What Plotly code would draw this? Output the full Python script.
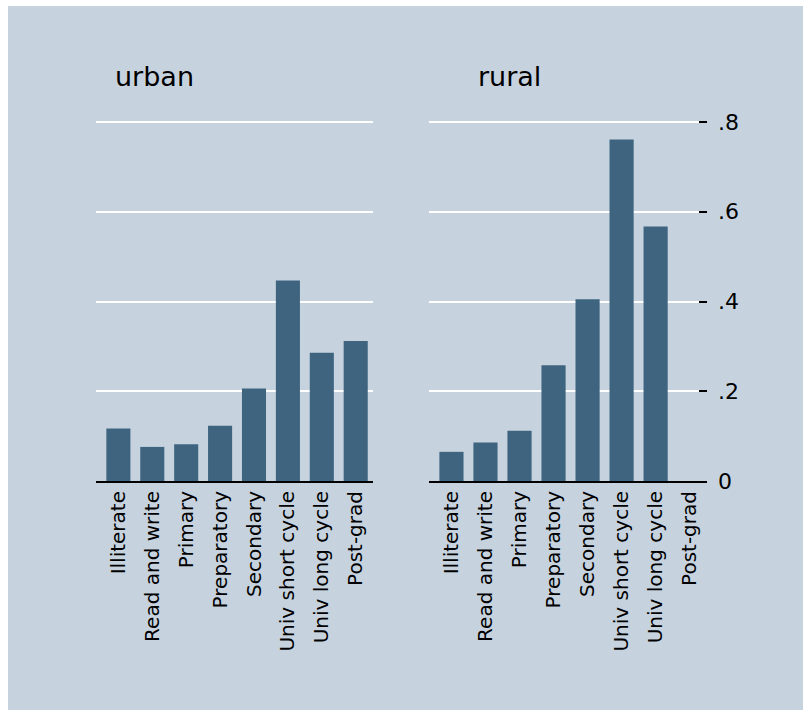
"""
Proporción por nivel educativo, paneles urbano / rural (estilo Stata).
"""

import plotly.graph_objects as go

# Datos
NIVELES = ['Illiterate', 'Read and write', 'Primary', 'Preparatory',
           'Secondary', 'Univ short cycle', 'Univ long cycle', 'Post-grad']
URBANO = [0.117, 0.076, 0.082, 0.123, 0.206, 0.447, 0.286, 0.312]
RURAL = [0.065, 0.086, 0.112, 0.258, 0.405, 0.761, 0.567, None]
TICKS_Y = [0, 0.2, 0.4, 0.6, 0.8]
TICKS_Y_TXT = ['0', '.2', '.4', '.6', '.8']

# Colores
COLOR_FONDO = "#C6D3DF"
COLOR_BARRA = "#3E6480"
FUENTE = "DejaVu Sans"

# Geometría en píxeles: el div queda a (8, 6) de la esquina de la ventana
OFF_X, OFF_Y = 8, 6
W, H = 803 - OFF_X, 710 - OFF_Y
L = 96 - OFF_X
T = 110 - OFF_Y
R = W - (707 - OFF_X)
B = H - (481 - OFF_Y)
ANCHO = W - L - R
ALTO = H - T - B


def px_x(p):
    # p en coordenadas de la ventana
    return (p - OFF_X - L) / ANCHO


def px_y(p):
    return (H - B - (p - OFF_Y)) / ALTO


fig = go.Figure()

fig.add_trace(go.Bar(x=list(range(len(NIVELES))), y=URBANO,
                     marker_color=COLOR_BARRA, marker_line_width=0,
                     xaxis='x', yaxis='y', showlegend=False))
fig.add_trace(go.Bar(x=list(range(len(NIVELES))), y=RURAL,
                     marker_color=COLOR_BARRA, marker_line_width=0,
                     xaxis='x2', yaxis='y2', showlegend=False))

eje_x = dict(
    tickmode='array',
    tickvals=list(range(len(NIVELES))),
    ticktext=NIVELES,
    tickangle=-90,
    range=[-0.66, 7.51],
    showgrid=False,
    zeroline=False,
    showline=True,
    linecolor='black',
    linewidth=2,
    ticks='',
    tickfont=dict(family=FUENTE, size=20, color='black'),
)
y_max = ALTO / 448.75

fig.update_layout(
    width=W,
    height=H,
    margin=dict(l=L, r=R, t=T, b=B),
    paper_bgcolor=COLOR_FONDO,
    plot_bgcolor=COLOR_FONDO,
    bargap=0.29,
    font=dict(family=FUENTE, color='black'),
    xaxis=dict(eje_x, domain=[0, px_x(373)], anchor='y'),
    xaxis2=dict(eje_x, domain=[px_x(429), 1], anchor='y2'),
    yaxis=dict(range=[0, y_max], tickvals=TICKS_Y, showticklabels=False,
               showgrid=True, gridcolor='white', gridwidth=2,
               zeroline=False, ticks='', anchor='x'),
    yaxis2=dict(range=[0, y_max], tickvals=TICKS_Y, ticktext=TICKS_Y_TXT,
                side='right', anchor='x2', showgrid=True, gridcolor='white',
                gridwidth=2, zeroline=False, ticks='inside', ticklen=8,
                tickwidth=2, tickcolor='black', ticklabelstandoff=10,
                tickfont=dict(family=FUENTE, size=22, color='black')),
    annotations=[
        dict(text='urban', xref='paper', yref='paper', x=px_x(113),
             y=px_y(77), xanchor='left', yanchor='middle', showarrow=False,
             font=dict(family=FUENTE, size=27, color='black')),
        dict(text='rural', xref='paper', yref='paper', x=px_x(476),
             y=px_y(77), xanchor='left', yanchor='middle', showarrow=False,
             font=dict(family=FUENTE, size=27, color='black')),
    ],
)

# margen blanco solo arriba e izquierda, como en el original
fig.write_html("out.html",
               post_script="document.body.style.margin='6px 0 0 8px';")
